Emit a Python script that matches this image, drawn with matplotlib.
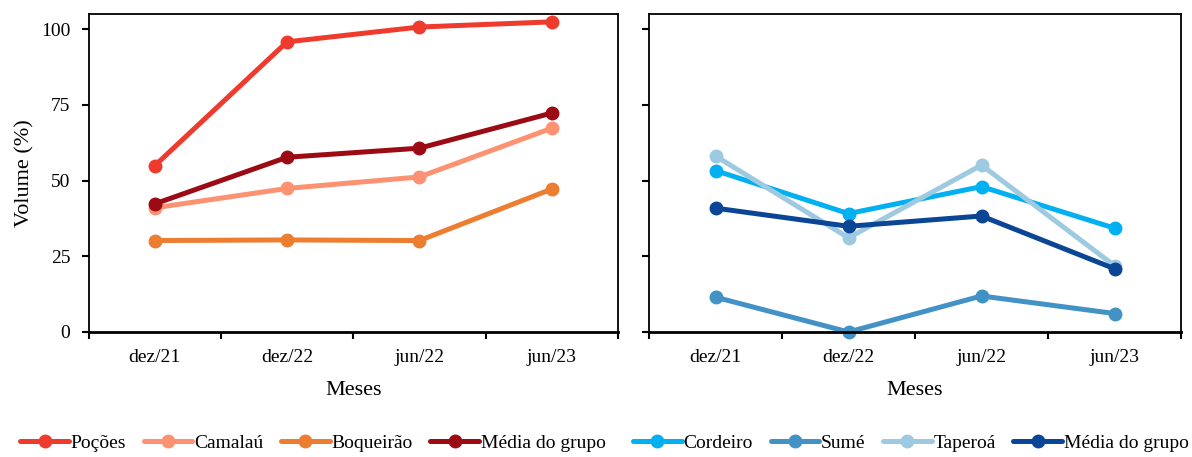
import matplotlib
matplotlib.use("Agg")
import matplotlib.pyplot as plt
from matplotlib.ticker import FixedLocator, NullFormatter, FixedFormatter

plt.rcParams["font.family"] = ["Liberation Serif", "DejaVu Serif"]

meses = ["dez/21", "dez/22", "jun/22", "jun/23"]

# Grupo 1
pocoes = [54.9, 95.8, 100.7, 102.4]
camalau = [41.0, 47.4, 51.2, 67.3]
boqueirao = [30.2, 30.4, 30.2, 47.2]
media_g1 = [42.3, 57.7, 60.7, 72.3]

# Grupo 2
cordeiro = [53.3, 39.1, 48.0, 34.3]
sume = [11.5, 0.0, 11.9, 6.1]
taperoa = [58.1, 31.1, 55.1, 21.9]
media_g2 = [40.9, 34.9, 38.3, 20.9]

grupo1 = [("Poções", pocoes, "#EE3B2E"),
          ("Camalaú", camalau, "#FC9272"),
          ("Boqueirão", boqueirao, "#ED7D31"),
          ("Média do grupo", media_g1, "#9C0B13")]
grupo2 = [("Cordeiro", cordeiro, "#00B0F0"),
          ("Sumé", sume, "#4292C6"),
          ("Taperoá", taperoa, "#9ECAE1"),
          ("Média do grupo", media_g2, "#0B4595")]

W, H = 1192, 457
fig = plt.figure(figsize=(W / 100, H / 100), dpi=100)
ax1 = fig.add_axes([88.5 / W, 125 / H, 529.5 / W, 318 / H])
ax2 = fig.add_axes([649 / W, 125 / H, 532 / W, 318 / H])

x = list(range(len(meses)))

def style(ax, show_ylabels):
    ax.set_xlim(-0.5, len(meses) - 0.5)
    ax.set_ylim(0, 105)
    ax.xaxis.set_major_locator(FixedLocator([i - 0.5 for i in range(len(meses) + 1)]))
    ax.xaxis.set_major_formatter(NullFormatter())
    ax.xaxis.set_minor_locator(FixedLocator(x))
    ax.xaxis.set_minor_formatter(FixedFormatter(meses))
    ax.tick_params(axis="x", which="major", direction="out", length=5, width=1.5)
    ax.tick_params(axis="x", which="minor", length=0, pad=12, labelsize=14)
    ax.set_yticks([0, 25, 50, 75, 100])
    ax.tick_params(axis="y", direction="out", length=5, width=1.5, pad=8, labelsize=14,
                   labelleft=show_ylabels)
    for s in ax.spines.values():
        s.set_linewidth(1.3)
        s.set_color("black")
    ax.spines["bottom"].set_linewidth(2)
    ax.set_xlabel("Meses", fontsize=16, labelpad=11)

for ax, grupo in ((ax1, grupo1), (ax2, grupo2)):
    for nome, vals, cor in grupo:
        ax.plot(x, vals, color=cor, lw=3.6, marker="o", markersize=9,
                solid_capstyle="round", label=nome, clip_on=False)

style(ax1, True)
style(ax2, False)
ax1.set_ylabel("Volume (%)", fontsize=16, labelpad=5)

leg_kw = dict(loc="center", ncol=4, frameon=False, fontsize=14, handlelength=2.5,
              handletextpad=0.1, columnspacing=0.9, borderaxespad=0)
h1, l1 = ax1.get_legend_handles_labels()
fig.legend(h1, l1, bbox_to_anchor=(313 / W, 1 - 443 / H), **leg_kw)
h2, l2 = ax2.get_legend_handles_labels()
fig.legend(h2, l2, bbox_to_anchor=(911 / W, 1 - 443 / H), **leg_kw)

fig.savefig("out.png", dpi=100)
